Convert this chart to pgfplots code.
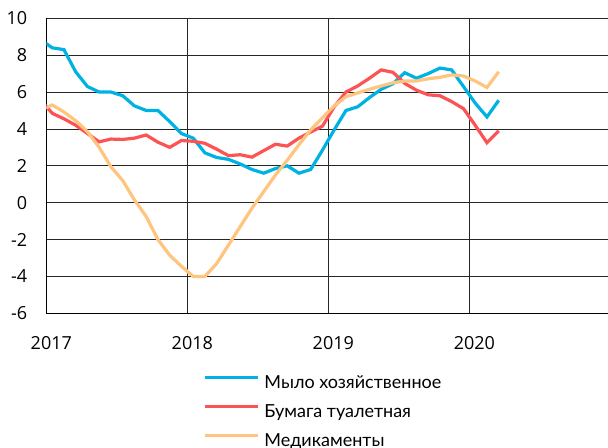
\documentclass[border=0pt]{standalone}
\usepackage{fontspec}
\setmainfont{Open Sans}
\newfontfamily\legfont{Lato}
\usepackage{pgfplots}
\usepackage{pgfplotstable}
\pgfplotsset{compat=1.18}
\definecolor{cblue}{RGB}{0,178,228}
\definecolor{cred}{RGB}{252,84,84}
\definecolor{corange}{RGB}{255,196,125}
\pgfplotstableread{
x blue red orange
-0.5 8.85 5.6 5.0
0.5 8.4 4.85 5.3
1.5 8.3 4.55 4.92
2.5 7.1 4.2 4.45
3.5 6.3 3.75 3.85
4.5 6.0 3.3 3.0
5.5 6.0 3.45 1.95
6.5 5.8 3.43 1.2
7.5 5.25 3.5 0.15
8.5 5.0 3.67 -0.75
9.5 5.0 3.28 -2.0
10.5 4.4 3.0 -2.85
11.5 3.75 3.37 -3.45
12.5 3.5 3.33 -4.0
13.5 2.7 3.22 -4.0
14.5 2.45 2.9 -3.3
15.5 2.35 2.55 -2.3
16.5 2.1 2.6 -1.3
17.5 1.8 2.47 -0.3
18.5 1.6 2.82 0.6
19.5 1.85 3.17 1.5
20.5 2.0 3.07 2.3
21.5 1.6 3.5 3.15
22.5 1.8 3.83 3.95
23.5 2.85 4.15 4.6
24.5 3.95 5.2 5.25
25.5 5.0 6.0 5.75
26.5 5.2 6.33 5.95
27.5 5.7 6.75 6.15
28.5 6.15 7.2 6.33
29.5 6.45 7.07 6.5
30.5 7.05 6.47 6.6
31.5 6.75 6.1 6.6
32.5 7.0 5.85 6.72
33.5 7.3 5.8 6.8
34.5 7.2 5.48 6.93
35.5 6.3 5.1 6.87
36.5 5.4 4.2 6.6
37.5 4.65 3.25 6.25
38.5 5.55 3.9 7.1
}\data
\begin{document}
\begin{tikzpicture}
\path[use as bounding box] (0,0) rectangle (608bp,448bp);
\begin{axis}[
  at={(46.3bp,134.7bp)}, anchor=south west,
  scale only axis, width=561.7bp, height=295bp,
  xmin=0, xmax=47.8, ymin=-6, ymax=10,
  xtick={0,12,24,36}, xticklabels={2017,2018,2019,2020},
  ytick={-6,-4,...,10},
  /pgf/number format/assume math mode=true,
  grid=major,
  major grid style={black!85, line width=0.8bp},
  axis x line*=bottom, axis y line*=left,
  axis line style={black, line width=0.9bp, -},
  major tick length=0pt,
  tick style={draw=none},
  tick label style={font=\fontsize{18bp}{20bp}\selectfont, inner sep=0pt},
  yticklabel style={xshift=-19bp},
  xticklabel style={yshift=-23bp, xshift=5bp},
  legend style={draw=none, fill=none, inner sep=0pt,
    at={(0.2790,-0.3393)}, anchor=west,
    font=\legfont\fontsize{18bp}{20bp}\selectfont,
    row sep=12bp,
    nodes={inner sep=0pt, text height=13bp, text depth=4bp},
    /tikz/every odd column/.append style={column sep=5bp}},
  legend cell align=left,
  legend image code/.code={\draw[#1, line width=3.2bp] (0bp,6.5bp) -- (53bp,6.5bp);},
]
\addplot[cblue, line width=3.2bp] table[x=x, y=blue] {\data};
\addlegendentry{Мыло хозяйственное}
\addplot[cred, line width=3.2bp] table[x=x, y=red] {\data};
\addlegendentry{Бумага туалетная}
\addplot[corange, line width=3.2bp] table[x=x, y=orange] {\data};
\addlegendentry{Медикаменты}
\end{axis}
\end{tikzpicture}
\end{document}
